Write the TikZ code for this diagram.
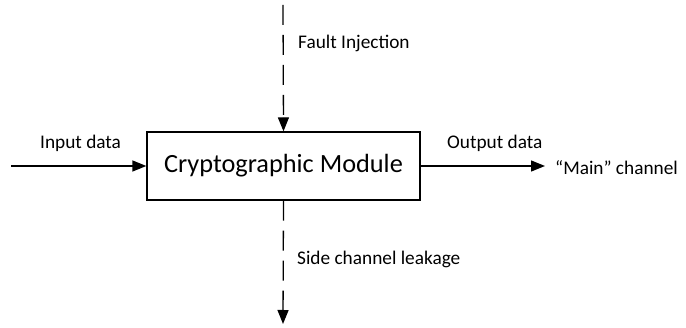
\documentclass[tikz,border=0pt]{standalone}
\usepackage{fontspec}
\setmainfont{Carlito}
\usetikzlibrary{arrows.meta}
\begin{document}
\begin{tikzpicture}[x=1pt,y=-1pt,
  flow/.style={line width=1.3pt,-{Triangle[length=14pt,width=11pt]}},
  dashflow/.style={flow,dash pattern=on 20pt off 10pt},
  lbl/.style={font=\fontsize{19.3}{23}\selectfont,inner sep=0pt},
  module/.style={draw,line width=1.3pt,minimum width=273pt,minimum height=68pt,
    font=\fontsize{26.3}{31}\selectfont,inner sep=0pt}]
\useasboundingbox (0,0) rectangle (686,328);
\node[module] (cm) at (283.5,166) {Cryptographic Module};
\coordinate (inStart) at (11,166);
\coordinate (outEnd) at (545,166);
\coordinate (topStart) at (283,5);
\coordinate (botEnd) at (283,324);
\draw[flow] (inStart) -- (cm.west);
\draw[flow] (cm.east) -- (outEnd);
\draw[dashflow] (topStart) -- (cm.north);
\draw[dashflow] (cm.south) -- (botEnd);
\node[lbl,anchor=west] (inLbl) at (40,143) {Input data};
\node[lbl,anchor=west] (outLbl) at (447,143) {Output data};
\node[lbl,anchor=west] (mainLbl) at (555,168) {“Main” channel};
\node[lbl,anchor=west] (faultLbl) at (298,43) {Fault Injection};
\node[lbl,anchor=west] (sideLbl) at (297,259) {Side channel leakage};
\end{tikzpicture}
\end{document}
